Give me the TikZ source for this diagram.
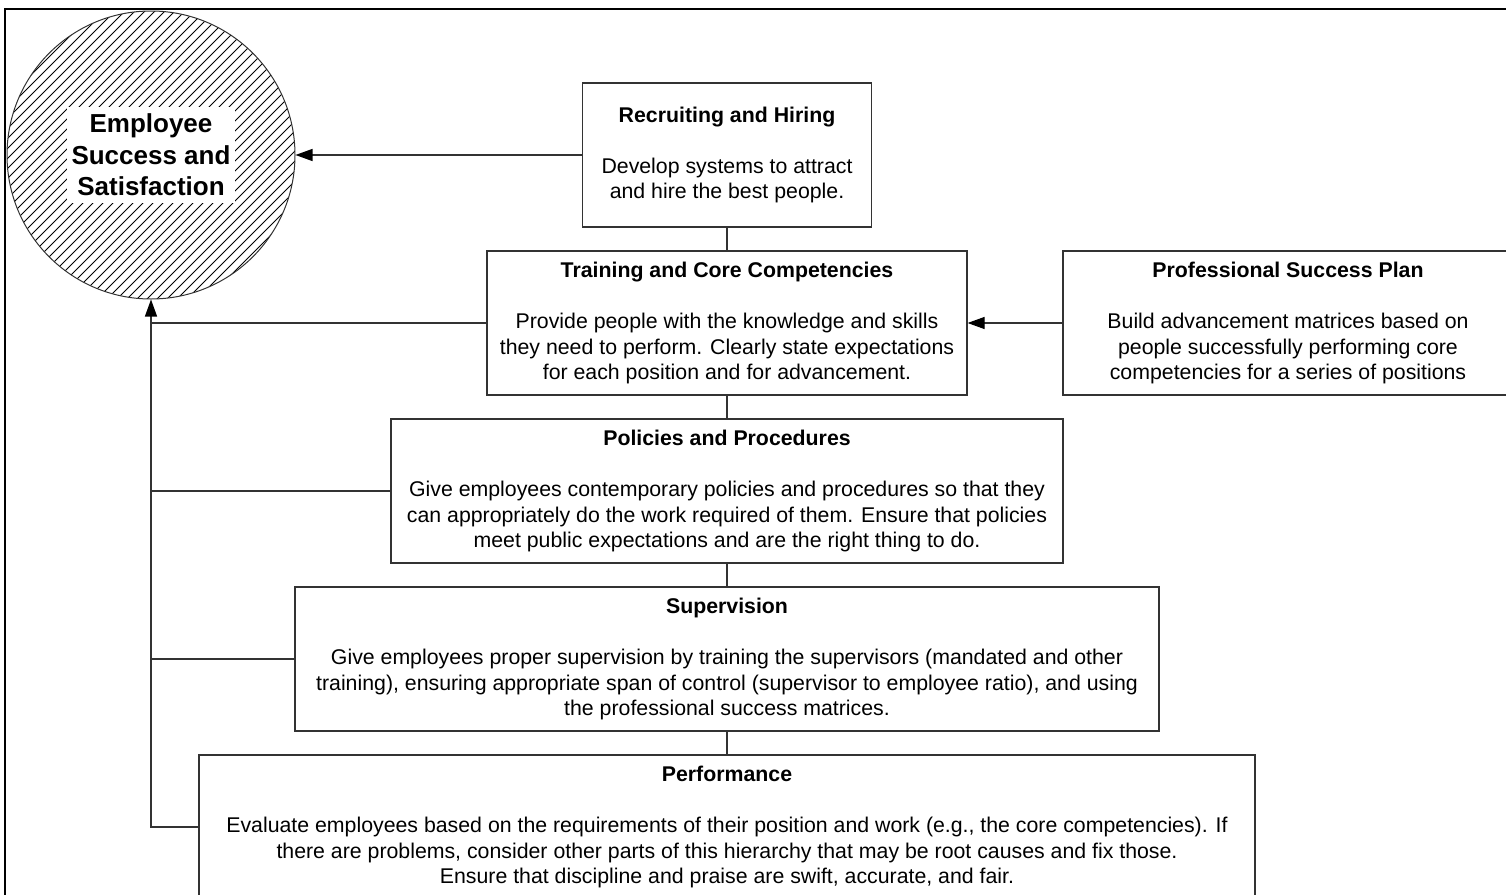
\documentclass[tikz,border=0pt]{standalone}
\usepackage{fontspec}
\setmainfont{Liberation Sans}
\usetikzlibrary{arrows.meta}
\begin{document}
\begin{tikzpicture}[x=1pt,y=-1pt,
  every node/.style={font=\fontsize{21.3}{25.5}\selectfont},
  stagebox/.style={draw=black!80, line width=1.2pt, fill=white, minimum height=144pt, inner sep=0pt, align=center},
  link/.style={draw=black!80, line width=1.2pt},
  feed/.style={link, -{Triangle[length=17pt,width=12pt,fill=black,color=black]}},
  hatchline/.style={draw=black, line width=0.9pt}]
\useasboundingbox (0,0) rectangle (1506,894);
\clip (0,0) rectangle (1506,894);
% outer frame
\draw[line width=1.5pt] (5,9) rectangle (1530,920);

% goal circle with diagonal hatching
\node[circle, draw=black!80, line width=1pt, minimum size=288pt, inner sep=0pt,
  path picture={\foreach \k in {-34,...,34}{\draw[hatchline] ([xshift=\k*10pt-170pt, yshift=-170pt]path picture bounding box.center) -- ++(340pt,340pt);}}]
  (goal) at (151,155) {};
\node[fill=white, inner xsep=5pt, inner ysep=7pt, align=center,
  font=\bfseries\fontsize{26}{31.5}\selectfont] (goaltext) at (goal.center)
  {Employee\\Success and\\Satisfaction};

% stages
\node[stagebox, minimum width=289pt] (recruit) at (727,155)
  {\textbf{Recruiting and Hiring}\\[25.5pt]
   Develop systems to attract\\and hire the best people.};
\node[stagebox, minimum width=480pt] (train) at (727,323)
  {\textbf{Training and Core Competencies}\\[25.5pt]
   Provide people with the knowledge and skills\\
   they need to perform. Clearly state expectations\\
   for each position and for advancement.};
\node[stagebox, minimum width=450pt] (plan) at (1288,323)
  {\textbf{Professional Success Plan}\\[25.5pt]
   Build advancement matrices based on\\
   people successfully performing core\\
   competencies for a series of positions};
\node[stagebox, minimum width=672pt] (policy) at (727,491)
  {\textbf{Policies and Procedures}\\[25.5pt]
   Give employees contemporary policies and procedures so that they\\
   can appropriately do the work required of them. Ensure that policies\\
   meet public expectations and are the right thing to do.};
\node[stagebox, minimum width=864pt] (superv) at (727,659)
  {\textbf{Supervision}\\[25.5pt]
   Give employees proper supervision by training the supervisors (mandated and other\\
   training), ensuring appropriate span of control (supervisor to employee ratio), and using\\
   the professional success matrices.};
\node[stagebox, minimum width=1056pt] (perf) at (727,827)
  {\textbf{Performance}\\[25.5pt]
   Evaluate employees based on the requirements of their position and work (e.g., the core competencies). If\\
   there are problems, consider other parts of this hierarchy that may be root causes and fix those.\\
   Ensure that discipline and praise are swift, accurate, and fair.};

% connectors
\draw[link] (recruit) -- (train);
\draw[link] (train) -- (policy);
\draw[link] (policy) -- (superv);
\draw[link] (superv) -- (perf);
\draw[feed] (recruit) -- (goal);
\draw[feed] (plan) -- (train);
\draw[feed] (perf.west) -| (goal.south);
\foreach \n in {train,policy,superv}
  \draw[link] (\n.west) -- (\n.west -| goal.south);
\end{tikzpicture}
\end{document}
